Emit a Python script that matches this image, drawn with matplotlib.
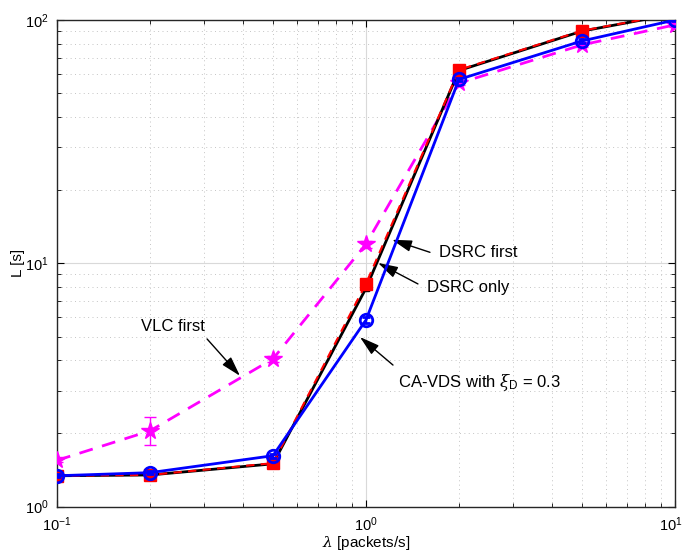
import matplotlib
matplotlib.use('Agg')
import matplotlib.pyplot as plt
import matplotlib.transforms as mtransforms
import numpy as np

plt.rcParams['font.family'] = ['Liberation Sans', 'DejaVu Sans']
plt.rcParams['mathtext.fontset'] = 'custom'
plt.rcParams['mathtext.rm'] = 'Liberation Sans'
plt.rcParams['mathtext.it'] = 'DejaVu Serif:italic'

# data
lam = [0.1, 0.2, 0.5, 1, 2, 5, 10]
dsrc_only = [1.34, 1.35, 1.50, 7.9, 62.0, 90.0, 106.0]
dsrc_first = [1.34, 1.35, 1.51, 8.25, 62.4, 90.4, 106.0]
vlc_first = [1.55, 2.05, 4.05, 12.0, 55.0, 79.0, 95.5]
vlc_err_lo = [0.03, 0.26, 0.12, 0.4, 1.0, 1.5, 1.5]
vlc_err_hi = [0.03, 0.29, 0.12, 0.4, 1.0, 1.5, 1.5]
ca_vds = [1.34, 1.38, 1.62, 5.85, 57.0, 82.0, 100.0]
small_err = [0.02, 0.02, 0.03, 0.15, 1.0, 1.2, 1.2]
xticks = [0.1, 1, 10]
xtick_labels = [r'$10^{-1}$', r'$10^{0}$', r'$10^{1}$']

fig = plt.figure(figsize=(6.84, 5.51), dpi=100)
ax = fig.add_axes([0.0833, 0.0804, 0.9035, 0.8833])

ax.errorbar(lam, vlc_first, yerr=[vlc_err_lo, vlc_err_hi], color='#ff00ff', ls='--', lw=2,
            marker='*', ms=13, capsize=4, elinewidth=1, dashes=(5, 3.5), zorder=3)
ax.errorbar(lam, dsrc_only, yerr=small_err, color='k', ls='-', lw=2,
            marker='s', ms=4, capsize=3, elinewidth=1, zorder=4)
ax.errorbar(lam, dsrc_first, yerr=small_err, color='r', ls='--', lw=1.5,
            marker='s', ms=8, mfc='r', capsize=3, elinewidth=1, dashes=(4, 3), zorder=5)
ax.errorbar(lam, ca_vds, yerr=small_err, color='#0000ff', ls='-', lw=2,
            marker='o', ms=9, mfc='none', mew=2, capsize=3, elinewidth=1, zorder=6)

ax.set_xscale('log')
ax.set_yscale('log')
ax.set_xlim(0.1, 10)
ax.set_ylim(1, 100)
ax.set_xticks(xticks)
ax.set_xticklabels(xtick_labels)

ax.grid(True, which='major', color='#d9d9d9', ls='-', lw=0.8)
ax.grid(True, which='minor', color='#c4c4c4', ls=(0, (1, 3.5)), lw=0.7)
ax.set_axisbelow(True)
ax.tick_params(which='both', direction='in', top=True, right=True, labelsize=10.5)
ax.tick_params(which='major', length=5)
ax.tick_params(which='minor', length=3)
ax.tick_params(axis='x', which='major', pad=6)
ax.tick_params(axis='y', which='major', pad=6)
for s in ax.spines.values():
    s.set_linewidth(1)
    s.set_color('#262626')

# keep the last x tick label inside the figure
last = ax.get_xticklabels()[-1]
last.set_transform(last.get_transform() +
                   mtransforms.ScaledTranslation(-3 / 72, 0, fig.dpi_scale_trans))

ax.set_xlabel(r'$\lambda$ [packets/s]', fontsize=11, labelpad=0)
ax.set_ylabel('L [s]', fontsize=11, labelpad=0)

arrow = dict(arrowstyle='-|>,head_length=0.55,head_width=0.16', color='k', lw=1,
             mutation_scale=22, shrinkA=0, shrinkB=0)
ax.annotate('', xy=(1.214, 12.5), xytext=(1.611, 11.1), arrowprops=arrow)
ax.text(1.723, 11.1, 'DSRC first', fontsize=12, ha='left', va='center')
ax.annotate('', xy=(1.094, 10.04), xytext=(1.473, 8.23), arrowprops=arrow)
ax.text(1.575, 7.92, 'DSRC only', fontsize=12, ha='left', va='center')
ax.annotate('', xy=(0.956, 4.98), xytext=(1.223, 3.82), arrowprops=arrow)
ax.text(1.27, 3.25, r'CA-VDS with $\xi_{\rm D}$ = 0.3', fontsize=12, ha='left', va='center')
ax.annotate('', xy=(0.391, 3.45), xytext=(0.306, 4.89), arrowprops=arrow)
ax.text(0.187, 5.48, 'VLC first', fontsize=12, ha='left', va='center')

fig.savefig('out.png', dpi=100)
